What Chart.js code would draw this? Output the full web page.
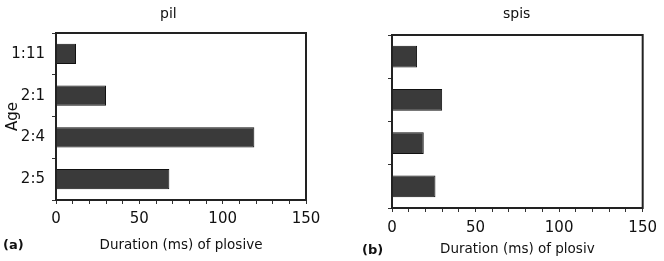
<!DOCTYPE html>
<html>
<head>
<meta charset="utf-8">
<script src="https://cdn.jsdelivr.net/npm/chart.js@4/dist/chart.umd.min.js"></script>
<style>
  body { margin: 0; background: #fff; }
  #wrap { position: relative; width: 664px; height: 261px; overflow: hidden; font-family: "DejaVu Sans", Verdana, sans-serif; color: #111; }
  .box { position: absolute; top: 0; height: 261px; }
  .lbl { position: absolute; font-size: 14px; white-space: nowrap; }
  .tag { position: absolute; font-size: 13px; font-weight: bold; }
</style>
</head>
<body>
<div id="wrap">
  <div class="box" style="left:0;width:332px"><canvas id="pil" width="332" height="261"></canvas></div>
  <div class="box" style="left:332px;width:332px"><canvas id="spis" width="332" height="261"></canvas></div>
  <div class="lbl" style="left:160px;top:5px">pil</div>
  <div class="lbl" style="left:503px;top:5px">spis</div>
  <div class="tag" style="left:3px;top:237px">(a)</div>
  <div class="tag" style="left:362px;top:242px">(b)</div>
</div>
<script>
const ages = ['1:11', '2:1', '2:4', '2:5'];
const pilDuration = [12, 30, 119, 68];
const spisDuration = [15, 30, 19, 26];
const xTicks = [0, 50, 100, 150];

const ink = '#111';
const sans = 'DejaVu Sans';

// box around the plot area
const frame = {
  id: 'frame',
  afterDatasetsDraw(chart) {
    const a = chart.chartArea;
    const ctx = chart.ctx;
    ctx.save();
    ctx.strokeStyle = '#222';
    ctx.lineWidth = 2;
    ctx.strokeRect(a.left, a.top, a.right - a.left, a.bottom - a.top);
    ctx.restore();
  }
};

function makeChart(id, values, opt) {
  return new Chart(document.getElementById(id), {
    type: 'bar',
    data: {
      labels: ages,
      datasets: [{
        data: values,
        backgroundColor: '#3a3a3a',
        borderColor: '#111',
        borderWidth: 1,
        categoryPercentage: 1,
        barPercentage: opt.barPct
      }]
    },
    options: {
      indexAxis: 'y',
      responsive: false,
      animation: false,
      layout: { padding: { top: opt.top, right: opt.right, left: 0, bottom: 0 } },
      plugins: { legend: { display: false }, tooltip: { enabled: false }, title: { display: false } },
      scales: {
        x: {
          min: 0,
          max: 150,
          afterFit: s => { s.height = opt.xHeight; },
          ticks: {
            stepSize: 10,
            autoSkip: false,
            maxRotation: 0,
            padding: opt.xTickPad,
            color: ink,
            font: { family: sans, size: 15 },
            callback: v => xTicks.includes(v) ? String(v) : ''
          },
          grid: { drawOnChartArea: false, tickLength: 4, tickColor: '#333', tickWidth: 1 },
          border: { color: '#222', width: 2 },
          title: {
            display: true,
            text: opt.xTitle,
            color: ink,
            font: { family: sans, size: 13.5 },
            padding: { top: 0, bottom: opt.xTitlePad }
          }
        },
        y: {
          afterFit: s => { s.width = opt.yWidth; },
          ticks: {
            padding: 7,
            color: ink,
            font: { family: sans, size: 15 },
            callback: function (v) { return opt.showAges ? this.getLabelForValue(v) : ''; }
          },
          grid: { offset: true, drawOnChartArea: false, tickLength: 4, tickColor: '#333' },
          border: { color: '#111', width: 2 },
          title: {
            display: opt.showAges,
            text: 'Age',
            color: ink,
            font: { family: sans, size: 15 },
            padding: { top: 4, bottom: 0 }
          }
        }
      }
    },
    plugins: [frame]
  });
}

makeChart('pil', pilDuration, {
  barPct: 0.48, top: 33, right: 26, xHeight: 61, yWidth: 56,
  xTickPad: 6, xTitlePad: 7, xTitle: 'Duration (ms) of plosive', showAges: true
});

makeChart('spis', spisDuration, {
  barPct: 0.5, top: 35, right: 16, xHeight: 53, yWidth: 60,
  xTickPad: 7, xTitlePad: 3, xTitle: 'Duration (ms) of plosiv', showAges: false
});
</script>
</body>
</html>
